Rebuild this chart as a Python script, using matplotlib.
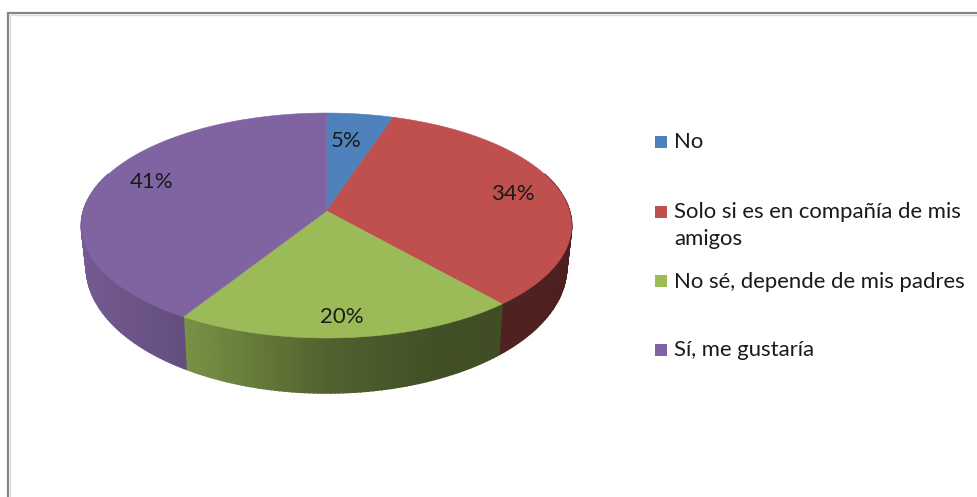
import matplotlib
matplotlib.use('Agg')
import matplotlib.pyplot as plt
from matplotlib.patches import Rectangle
import numpy as np

plt.rcParams['font.family'] = ['Lato', 'DejaVu Sans']

# data
categories = ['No', 'Solo si es en compañía de mis\namigos', 'No sé, depende de mis padres', 'Sí, me gustaría']
values = [5, 33.7, 20.1, 41.2]
pct_labels = ['5%', '34%', '20%', '41%']
colors = ['#4F81BD', '#C0504D', '#9BBB59', '#8064A2']

# pixel layout of the fake 3d pie
cx, cy = 326.5, 211
a, b, k = 243, 110.6, 0.129
label_xy = [(346, 141), (513, 194), (342, 317), (152, 182)]
legend_y = [142, 212, 281, 350]

fig = plt.figure(figsize=(9.78, 4.97), dpi=100)
ax = fig.add_axes([0, 0, 1, 1])
ax.set_xlim(0, 978)
ax.set_ylim(497, 0)
ax.axis('off')


def top_xy(theta):
    # theta clockwise from 12 o'clock, perspective circle
    u, v = np.sin(theta), np.cos(theta)
    w = 1 + k * v
    return cx + a * u / w, cy - b * v / w


def bottom_xy(theta):
    x, y = top_xy(theta)
    return cx + 0.98 * (x - cx), cy + 39.7 + 1.12 * (y - cy)


def shade(x):
    return np.interp(x, [80, 184, 330, 430, 572], [0.90, 0.78, 0.52, 0.43, 0.40])


edges = np.cumsum([0] + values) / sum(values) * 2 * np.pi

# side wall, split in thin strips for the gradient
for i, col in enumerate(colors):
    rgb = np.array(matplotlib.colors.to_rgb(col))
    n = max(int(values[i] * 4), 2)
    ts = np.linspace(edges[i], edges[i + 1], n + 1)
    for t0, t1 in zip(ts[:-1], ts[1:]):
        if np.cos((t0 + t1) / 2) > 0.35:
            continue
        tt = np.linspace(t0, t1, 5)
        xa, ya = top_xy(tt)
        xb, yb = bottom_xy(tt)
        c = rgb * shade(xa.mean())
        ax.fill(np.r_[xa, xb[::-1]], np.r_[ya, yb[::-1]], color=c, lw=1.2, zorder=2)

# top face
for i, col in enumerate(colors):
    ts = np.linspace(edges[i], edges[i + 1], 120)
    xs, ys = top_xy(ts)
    ax.fill(np.r_[cx, xs], np.r_[cy, ys], color=col, lw=0.4, zorder=3)

for (x, y), s in zip(label_xy, pct_labels):
    ax.text(x, y, s, ha='center', va='center', fontsize=16, color='#1a1a1a', zorder=4)

# legend
for y, col, s in zip(legend_y, colors, categories):
    ax.add_patch(Rectangle((655, y - 6), 12, 12, color=col, lw=0))
    ax.text(674, y - 9.5, s, ha='left', va='top', fontsize=15.9, color='#1a1a1a', linespacing=1.4)

# chart frame, runs off the right and bottom of the screenshot
ax.plot([9.5, 9.5, 978], [497, 15, 15], color='#dddddd', lw=1, solid_joinstyle='miter')
ax.plot([8, 8, 978], [497, 13, 13], color='#858585', lw=1.6, solid_joinstyle='miter')

fig.savefig('out.png', dpi=100, facecolor='white')
